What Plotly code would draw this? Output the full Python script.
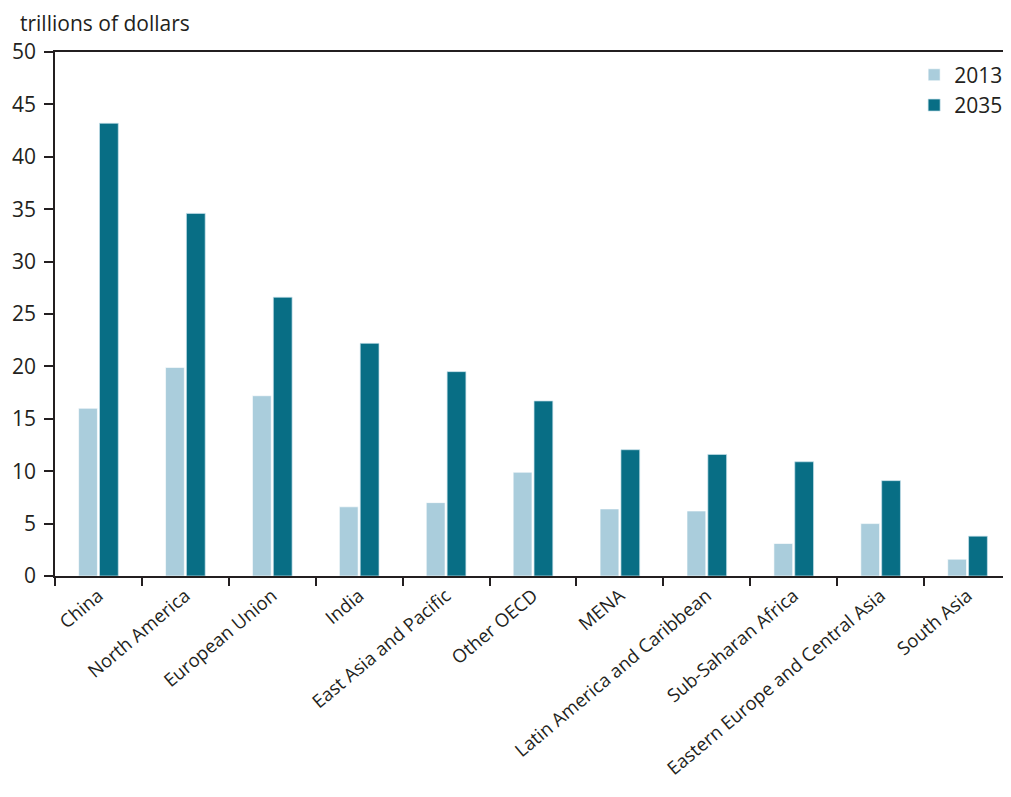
import plotly.graph_objects as go

regions = ["China", "North America", "European Union", "India", "East Asia and Pacific",
           "Other OECD", "MENA", "Latin America and Caribbean", "Sub-Saharan Africa",
           "Eastern Europe and Central Asia", "South Asia"]
values_2013 = [16.0, 19.9, 17.2, 6.6, 7.0, 9.9, 6.4, 6.2, 3.1, 5.0, 1.6]
values_2035 = [43.2, 34.6, 26.6, 22.2, 19.5, 16.7, 12.05, 11.6, 10.9, 9.1, 3.8]
y_ticks = [0, 5, 10, 15, 20, 25, 30, 35, 40, 45, 50]

FONT = "Open Sans"
TXT = "#231f20"

fig = go.Figure()
fig.add_trace(go.Bar(x=regions, y=values_2013, name="2013",
                     marker=dict(color="#aacddc", line=dict(color="rgba(255,255,255,0.6)", width=1))))
fig.add_trace(go.Bar(x=regions, y=values_2035, name="2035",
                     marker=dict(color="#086e85", line=dict(color="rgba(200,225,235,0.7)", width=1))))

# page body has an 8px margin, so the figure is sized to fit in the window without scrollbars
fig.update_layout(
    width=1003, height=781,
    margin=dict(l=47, r=0, t=44, b=213),
    paper_bgcolor="white", plot_bgcolor="white",
    barmode="group", bargap=0.52, bargroupgap=0.1,
    font=dict(family=FONT, size=20, color=TXT),
    legend=dict(x=0.997, xanchor="right", y=0.995, yanchor="top",
                font=dict(size=21, color=TXT), bgcolor="rgba(0,0,0,0)",
                itemwidth=30, tracegroupgap=2),
    annotations=[dict(text="trillions of dollars", xref="paper", yref="paper",
                      x=-0.039, y=1.055, xanchor="left", yanchor="middle", showarrow=False,
                      font=dict(size=21, color=TXT))],
)
fig.update_xaxes(
    range=[-0.5, 10.5], showline=True, linecolor="#231f20", linewidth=1.5, mirror=True,
    ticks="outside", ticklen=8, tickcolor="#231f20", tickwidth=1.5, automargin=False,
    tickson="boundaries", tickangle=-40, showgrid=False, tickfont=dict(size=18.5, color=TXT),
)
fig.update_yaxes(
    range=[0, 50], tickvals=y_ticks, showline=True, linecolor="#231f20", linewidth=1.5,
    ticks="outside", ticklen=9, tickcolor="#231f20", tickwidth=1.5, automargin=False,
    showgrid=False, zeroline=False, tickfont=dict(size=21, color=TXT), ticklabelstandoff=4,
)

fig.write_html("out.html")
